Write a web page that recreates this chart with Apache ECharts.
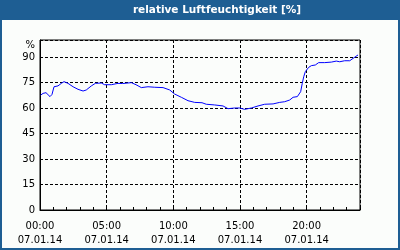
<!DOCTYPE html>
<html><head><meta charset="utf-8">
<script src="https://cdn.jsdelivr.net/npm/echarts@6/dist/echarts.min.js"></script>
<style>html,body{margin:0;padding:0;background:#fff}#c{width:400px;height:250px}</style>
</head><body><div id="c"></div>
<script>
const titleText = 'relative Luftfeuchtigkeit [%]';
const dateLabel = '07.01.14';
const xTickHours = [0, 5, 10, 15, 20];
const yTicks = [0, 15, 30, 45, 60, 75, 90];
const hours = [0.05,0.23,0.45,0.6,0.75,0.9,1.05,1.35,1.6,1.8,2.1,2.48,2.85,3.23,3.47,3.85,4.15,4.6,4.85,5.35,5.85,6.2,6.85,7.2,7.6,8.1,8.6,9.23,9.73,10.1,10.6,11.1,11.6,12.15,12.47,13.1,13.73,14.1,14.6,14.98,15.35,15.85,16.35,16.85,17.48,17.98,18.35,18.73,18.98,19.3,19.55,19.67,19.78,19.9,20.15,20.35,20.65,20.9,21.35,21.85,22.22,22.48,22.85,23.23,23.48,23.85];
const humidity = [67.6,68.6,69,68,66.7,68,72.5,73,74.5,75.5,74.5,72.5,71,70,70.6,73,74.5,74.7,73.7,73.7,74.5,74.4,74.9,73.7,72,72.5,72.2,72,70.6,68.2,66.3,64.3,63.3,63.1,62.2,61.8,61.2,59.6,60,60,59.2,60,61.2,62.2,62.4,63.3,63.7,64.7,66.3,66.7,69.6,74.5,78.4,81.4,83.9,84.9,85.3,86.7,86.7,87,87.6,87.2,87.8,87.8,89.2,91.2];

const font = 'DejaVu Sans';
const data = hours.map((h, i) => [h, humidity[i]]);
const chart = echarts.init(document.getElementById('c'), null, {renderer: 'canvas'});
chart.setOption({
  animation: false,
  backgroundColor: '#FBFDFB',
  grid: {left: 40, right: 40, top: 40, bottom: 40, show: true, borderColor: '#000', borderWidth: 1},
  graphic: [
    {type: 'rect', shape: {x: 0, y: 0, width: 400, height: 20}, style: {fill: '#1E5E93'}, z: 10},
    {type: 'rect', shape: {x: 0, y: 0, width: 2, height: 250}, style: {fill: '#1E5E93'}, z: 10},
    {type: 'rect', shape: {x: 398, y: 0, width: 2, height: 250}, style: {fill: '#1E5E93'}, z: 10},
    {type: 'rect', shape: {x: 0, y: 248, width: 400, height: 2}, style: {fill: '#1E5E93'}, z: 10},
    {type: 'text', x: 217, y: 10, z: 11, style: {text: titleText, fill: '#fff', font: 'bold 10.5px ' + font, textAlign: 'center', textVerticalAlign: 'middle'}}
  ],
  xAxis: [{
    type: 'value', min: 0, max: 24, interval: 5,
    axisLine: {show: true, lineStyle: {color: '#000'}},
    axisTick: {show: false},
    splitLine: {show: true, lineStyle: {color: '#000', type: [3, 2], width: 1}},
    axisLabel: {
      color: '#000', fontFamily: font, fontSize: 10, lineHeight: 14, margin: 9, showMaxLabel: false,
      formatter: v => xTickHours.includes(v) ? (String(v).padStart(2, '0') + ':00\n' + dateLabel) : ''
    }
  }, {
    type: 'value', min: 0, max: 24, interval: 1, position: 'bottom',
    axisLine: {show: false}, splitLine: {show: false},
    axisTick: {show: true, inside: true, length: 3, lineStyle: {color: '#000'}},
    axisLabel: {show: false}
  }],
  yAxis: {
    type: 'value', min: 0, max: 100, interval: 15,
    axisLine: {show: true, lineStyle: {color: '#000'}},
    axisTick: {show: false},
    splitLine: {show: true, lineStyle: {color: '#000', type: [3, 2], width: 1}},
    axisLabel: {
      color: '#000', fontFamily: font, fontSize: 10, margin: 5,
      formatter: v => yTicks.includes(v) ? String(v) : '{p|%}',
      rich: {p: {fontFamily: font, fontSize: 10, color: '#000', padding: [10, 0, 0, 0]}}
    }
  },
  series: [{
    type: 'line', xAxisIndex: 0, data: data, showSymbol: false, symbol: 'none',
    lineStyle: {color: '#0000FF', width: 1}, z: 5
  }]
});
</script></body></html>
